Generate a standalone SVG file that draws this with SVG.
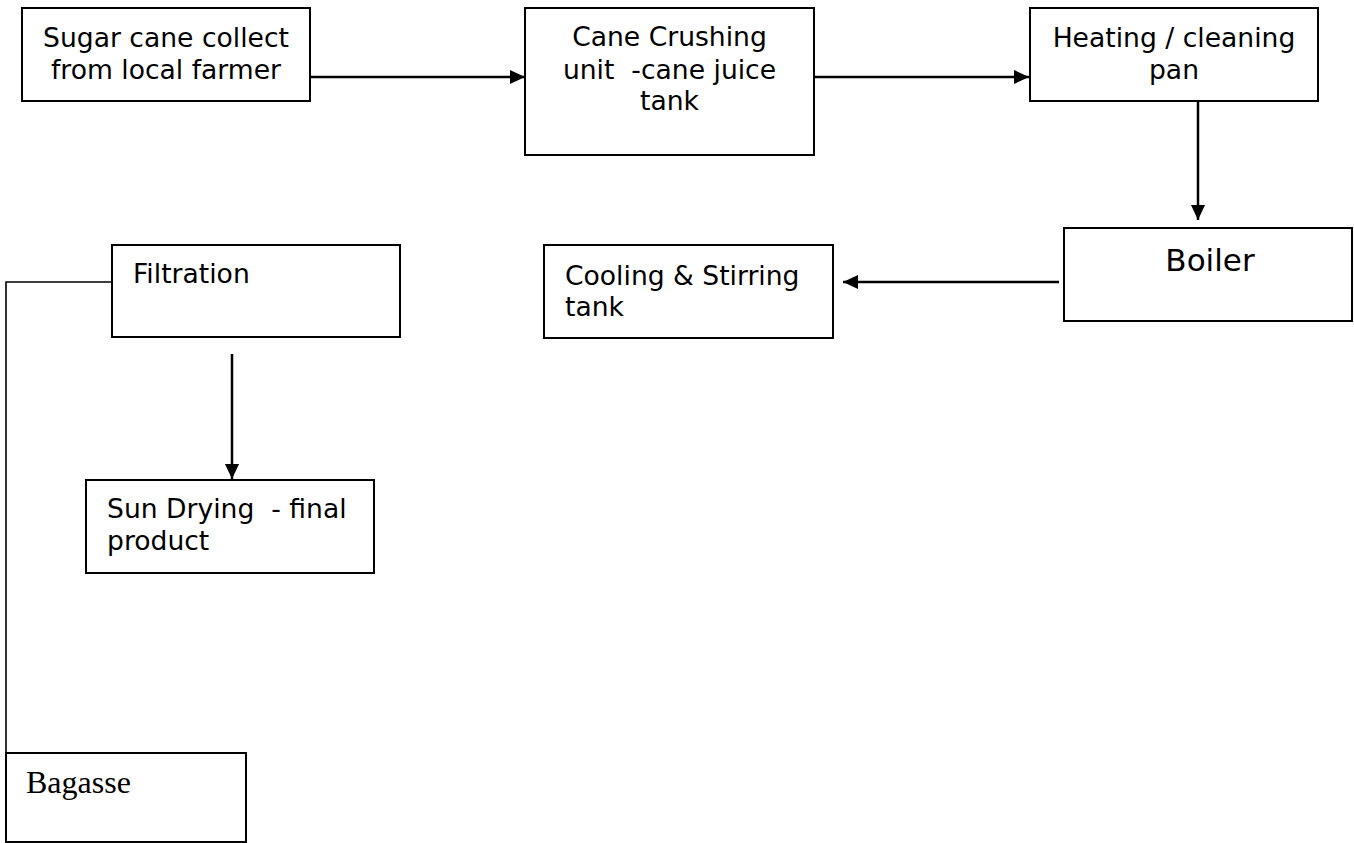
<svg xmlns="http://www.w3.org/2000/svg" width="1354" height="843" viewBox="0 0 1354 843">
<style>
.box{fill:#fff;stroke:#000;stroke-width:2}
.t{font-family:"DejaVu Sans","Verdana",sans-serif;font-size:26.6px;fill:#000;white-space:pre}
.c{text-anchor:middle}
.con{fill:none;stroke:#000;stroke-width:2.5}
.thin{fill:none;stroke:#000;stroke-width:1.6}
</style>
<defs>
<marker id="ah" markerUnits="userSpaceOnUse" markerWidth="16" markerHeight="14" refX="15" refY="7" orient="auto">
<path d="M0,0 L15,7 L0,14 z" fill="#000"/>
</marker>
</defs>
<rect width="1354" height="843" fill="#fff"/>
<g id="connectors">
<line class="con" x1="310" y1="77" x2="525" y2="77" marker-end="url(#ah)"/>
<line class="con" x1="814" y1="77" x2="1029" y2="77" marker-end="url(#ah)"/>
<line class="con" x1="1198" y1="101" x2="1198" y2="220" marker-end="url(#ah)"/>
<line class="con" x1="1059" y1="282" x2="843" y2="282" marker-end="url(#ah)"/>
<line class="con" x1="232" y1="354" x2="232" y2="479" marker-end="url(#ah)"/>
<polyline class="thin" points="112,282 6,282 6,843"/>
</g>
<g id="n-sugarcane">
<rect class="box" x="22" y="8" width="288" height="93"/>
<text class="t c" x="166" y="47">Sugar cane collect</text>
<text class="t c" x="166" y="79">from local farmer</text>
</g>
<g id="n-crushing">
<rect class="box" x="525" y="8" width="289" height="147"/>
<text class="t c" x="669.5" y="46">Cane Crushing</text>
<text class="t c" x="669.5" y="79" xml:space="preserve">unit  -cane juice</text>
<text class="t c" x="669.5" y="110">tank</text>
</g>
<g id="n-heating">
<rect class="box" x="1030" y="8" width="288" height="93"/>
<text class="t c" x="1174" y="47">Heating / cleaning</text>
<text class="t c" x="1174" y="79">pan</text>
</g>
<g id="n-boiler">
<rect class="box" x="1064" y="228" width="288" height="93"/>
<text class="t c" x="1210" y="271" style="font-size:31px">Boiler</text>
</g>
<g id="n-cooling">
<rect class="box" x="544" y="245" width="289" height="93"/>
<text class="t" x="565" y="285">Cooling &amp; Stirring</text>
<text class="t" x="565" y="316">tank</text>
</g>
<g id="n-filtration">
<rect class="box" x="112" y="245" width="288" height="92"/>
<text class="t" x="133" y="283">Filtration</text>
</g>
<g id="n-sundrying">
<rect class="box" x="86" y="480" width="288" height="93"/>
<text class="t" x="107" y="518" xml:space="preserve">Sun Drying  - final</text>
<text class="t" x="107" y="550">product</text>
</g>
<g id="n-bagasse">
<rect class="box" x="6" y="753" width="240" height="89"/>
<text x="26" y="793" style="font-family:'Liberation Serif','Times New Roman',serif;font-size:32px;fill:#000">Bagasse</text>
</g>
</svg>
